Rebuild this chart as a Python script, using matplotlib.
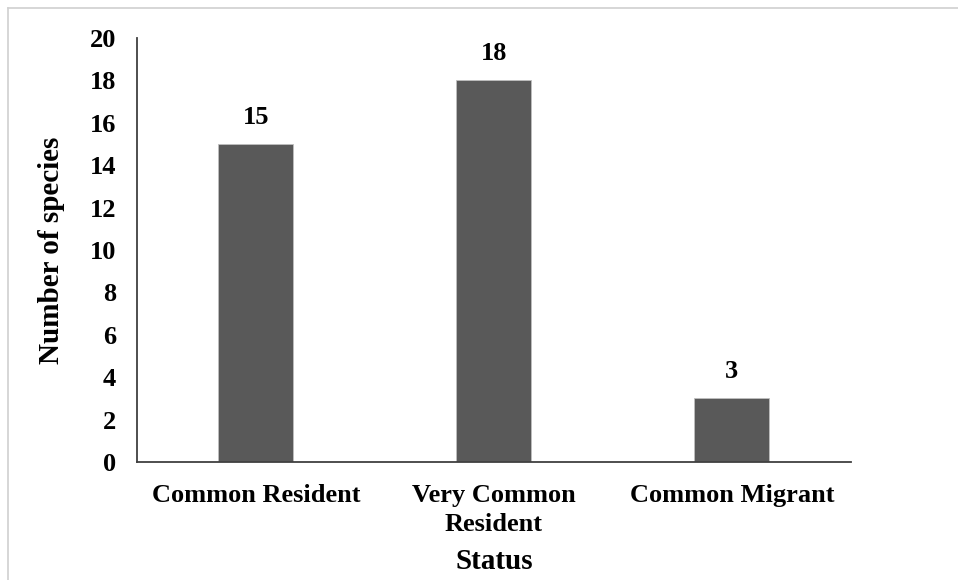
import matplotlib
matplotlib.use('Agg')
import matplotlib.pyplot as plt
from matplotlib.lines import Line2D

# Species counts by residency status
categories = ['Common Resident', 'Very Common\nResident', 'Common Migrant']
counts = [15, 18, 3]
y_ticks = list(range(0, 21, 2))

plt.rcParams['font.family'] = ['Liberation Serif', 'DejaVu Serif']
plt.rcParams['font.weight'] = 'bold'

fig = plt.figure(figsize=(9.58, 5.8), dpi=100)
ax = fig.add_axes([0.143, 0.2034, 0.745, 0.7311])

x = range(len(categories))
ax.bar(x, counts, width=0.315, color='#595959', edgecolor='#bfbfbf', linewidth=0.6, zorder=2)

for xi, v in zip(x, counts):
    ax.annotate(str(v), (xi, v), xytext=(0, 11), textcoords='offset points',
                ha='center', va='bottom', fontsize=19, fontweight='bold')

ax.set_xlim(-0.5, len(categories) - 0.5)
ax.set_ylim(0, 20)
ax.set_yticks(y_ticks)
ax.set_xticks(list(x))
ax.set_xticklabels(categories, fontsize=19, fontweight='bold', linespacing=1.3)
ax.tick_params(axis='y', labelsize=19, length=0, pad=15)
ax.tick_params(axis='x', length=0, pad=16)

for side in ['top', 'right']:
    ax.spines[side].set_visible(False)
for side in ['left', 'bottom']:
    ax.spines[side].set_color('#404040')
    ax.spines[side].set_linewidth(1.3)

ax.set_ylabel('Number of species', fontsize=21, fontweight='bold', labelpad=18)
ax.set_xlabel('Status', fontsize=21, fontweight='bold', labelpad=9)

# thin frame around the chart area
fig.add_artist(Line2D([8 / 958, 1], [1 - 8 / 580, 1 - 8 / 580], color='#d0d0d0', linewidth=1.2))
fig.add_artist(Line2D([8 / 958, 8 / 958], [0, 1 - 8 / 580], color='#d0d0d0', linewidth=1.2))

fig.savefig('out.png', dpi=100)
